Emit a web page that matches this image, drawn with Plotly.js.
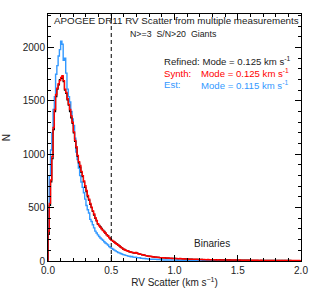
<!DOCTYPE html>
<html>
<head>
<meta charset="utf-8">
<script src="https://cdn.plot.ly/plotly-3.0.1.min.js"></script>
<style>
html,body{margin:0;padding:0;background:#fff;}
#chart{width:315px;height:293px;}
</style>
</head>
<body>
<div id="chart"></div>
<script>
// Histogram bins: 0.00 - 2.00 km/s, bin width 0.01
const binStart = 0.0;
const binWidth = 0.01;

// Refined (black)
const refinedCounts = [
  250, 520, 740, 960, 1230, 1400, 1540, 1610, 1650, 1700,
  1710, 1725, 1680, 1600, 1570, 1510, 1460, 1400, 1340, 1290,
  1200, 1120, 1060, 980, 920, 880, 830, 790, 740, 690,
  650, 600, 570, 530, 500, 465, 430, 400, 375, 345,
  335, 320, 305, 290, 278, 258, 248, 236, 220, 208,
  192, 183, 178, 168, 160, 148, 143, 130, 124, 112,
  108, 99, 97, 92, 86, 84, 82, 76, 74, 78,
  74, 70, 64, 63, 58, 57, 52, 51, 47, 46,
  43, 42, 41, 39, 36, 36, 34, 34, 31, 31,
  30, 29, 29, 26, 27, 27, 24, 25, 25, 24,
  24, 23, 23, 22, 22, 21, 20, 20, 19, 19,
  18, 18, 17, 18, 15, 16, 16, 15, 16, 14,
  14, 15, 13, 13, 14, 12, 13, 13, 12, 12,
  12, 11, 12, 11, 11, 12, 10, 10, 11, 10,
  9, 10, 9, 10, 9, 9, 8, 9, 8, 9,
  9, 8, 8, 8, 7, 8, 7, 8, 8, 7,
  6, 7, 7, 6, 7, 6, 7, 6, 6, 7,
  6, 6, 5, 6, 6, 5, 6, 5, 6, 5,
  5, 5, 6, 4, 5, 5, 4, 5, 4, 5,
  4, 5, 4, 4, 4, 3, 4, 4, 3, 4
];

// Synth (red)
const synthCounts = [
  280, 540, 760, 980, 1250, 1420, 1560, 1620, 1660, 1690,
  1720, 1735, 1690, 1610, 1580, 1520, 1470, 1420, 1360, 1300,
  1210, 1130, 1070, 990, 930, 895, 840, 800, 750, 705,
  660, 615, 580, 540, 505, 470, 440, 405, 380, 350,
  330, 315, 300, 285, 272, 262, 245, 232, 218, 205,
  195, 186, 176, 166, 157, 150, 141, 132, 122, 114,
  106, 101, 96, 91, 88, 85, 80, 78, 75, 80,
  72, 68, 66, 62, 60, 56, 54, 50, 48, 45,
  42, 44, 40, 38, 37, 35, 36, 33, 32, 30,
  29, 30, 28, 27, 28, 26, 25, 26, 24, 25,
  23, 24, 22, 21, 23, 20, 21, 19, 20, 18,
  19, 17, 18, 17, 16, 17, 15, 16, 15, 14,
  15, 14, 13, 14, 13, 12, 14, 12, 13, 12,
  11, 12, 11, 10, 12, 11, 10, 11, 10, 9,
  10, 9, 10, 9, 8, 10, 9, 8, 9, 8,
  8, 9, 8, 7, 8, 7, 8, 7, 7, 8,
  7, 6, 7, 7, 6, 7, 6, 6, 7, 6,
  6, 5, 6, 6, 5, 6, 5, 6, 5, 5,
  5, 6, 5, 5, 4, 5, 5, 4, 5, 4,
  5, 4, 4, 5, 4, 4, 3, 4, 4, 3
];

// Est (blue)
const estCounts = [
  470, 800, 1040, 1200, 1420, 1540, 1750, 1830, 1920, 1980,
  2060, 2030, 1880, 1900, 1760, 1610, 1540, 1490, 1400, 1330,
  1270, 1150, 1020, 950, 870, 800, 740, 690, 640, 580,
  520, 480, 450, 390, 370, 340, 310, 280, 262, 245,
  230, 215, 205, 195, 180, 168, 160, 150, 135, 125,
  118, 110, 102, 95, 88, 80, 76, 70, 66, 60,
  57, 53, 50, 46, 44, 40, 42, 36, 34, 35,
  31, 29, 30, 26, 25, 23, 24, 21, 20, 19,
  18, 17, 18, 16, 15, 16, 14, 13, 14, 12,
  11, 10, 11, 10, 9, 10, 9, 9, 8, 8,
  8, 7, 9, 7, 7, 8, 6, 6, 7, 6,
  6, 5, 6, 6, 5, 5, 6, 5, 5, 5,
  5, 4, 5, 5, 4, 5, 4, 4, 4, 5,
  4, 4, 4, 5, 3, 4, 4, 3, 4, 4,
  3, 4, 3, 3, 4, 3, 3, 3, 4, 3,
  3, 3, 3, 2, 3, 3, 3, 2, 3, 3,
  2, 3, 2, 2, 3, 2, 2, 3, 2, 2,
  2, 2, 2, 3, 2, 2, 1, 2, 2, 2,
  2, 1, 2, 2, 1, 2, 2, 1, 2, 1,
  1, 2, 1, 1, 2, 1, 1, 2, 1, 1
];

const binaryCut = 0.5;
const xTickVals = [0, 0.5, 1.0, 1.5, 2.0];
const xTickText = ['0.0', '0.5', '1.0', '1.5', '2.0'];
const yTickVals = [0, 500, 1000, 1500, 2000];
const yTickText = ['0', '500', '1000', '1500', '2000'];

function stepTrace(counts, color, width) {
  const x = [binStart];
  const y = [0];
  counts.forEach((c, i) => { x.push(binStart + i * binWidth); y.push(c); });
  x.push(binStart + counts.length * binWidth);
  y.push(counts[counts.length - 1]);
  return {x, y, type: 'scatter', mode: 'lines',
    line: {shape: 'hv', color, width}, hoverinfo: 'skip', showlegend: false};
}

const BLUE = '#3399ff';
const RED = '#ff0000';
const TXT = '#222';
const data = [
  stepTrace(estCounts, BLUE, 1.4),
  stepTrace(refinedCounts, '#000000', 1.2),
  stepTrace(synthCounts, RED, 1.4)
];

const FAM = 'Liberation Sans, Arial, sans-serif';
const font = {family: FAM, size: 10, color: TXT};
const axisCommon = {
  showline: true, linecolor: '#000', linewidth: 1, mirror: 'ticks',
  ticks: 'inside', ticklen: 6, tickcolor: '#000', tickwidth: 1,
  showgrid: false, zeroline: false, tickfont: font
};

const layout = {
  width: 315, height: 293,
  margin: {l: 48, r: 14, t: 14, b: 32},
  paper_bgcolor: '#fff', plot_bgcolor: '#fff',
  font: font,
  xaxis: Object.assign({}, axisCommon, {
    range: [0, 2.0], tickvals: xTickVals, ticktext: xTickText,
    minor: {dtick: 0.1, ticks: 'inside', ticklen: 3, tickcolor: '#000'},
    title: {text: 'RV Scatter (km s<sup>\u22121</sup>)', font: font, standoff: 3}
  }),
  yaxis: Object.assign({}, axisCommon, {
    range: [0, 2314], tickvals: yTickVals, ticktext: yTickText,
    minor: {dtick: 100, ticks: 'inside', ticklen: 3, tickcolor: '#000'},
    title: {text: 'N', font: font, standoff: 10}
  }),
  shapes: [{type: 'line', xref: 'x', yref: 'paper', x0: binaryCut, x1: binaryCut, y0: 0, y1: 1,
    line: {color: '#000', width: 1, dash: '4px,3px'}}],
  annotations: [
    {xref: 'paper', yref: 'paper', x: 0.506, y: 0.972, text: 'APOGEE DR11 RV Scatter from multiple measurements',
      showarrow: false, xanchor: 'center', yanchor: 'middle', font: {family: FAM, size: 9.8, color: TXT}},
    {xref: 'paper', yref: 'paper', x: 0.498, y: 0.919, text: 'N>=3  S/N>20  Giants',
      showarrow: false, xanchor: 'center', yanchor: 'middle', font: {family: FAM, size: 8.8, color: TXT}},
    {xref: 'paper', yref: 'paper', x: 0.451, y: 0.808, text: 'Refined: Mode = 0.125 km s<sup>-1</sup>',
      showarrow: false, xanchor: 'left', yanchor: 'middle', font: {family: FAM, size: 9.6, color: TXT}},
    {xref: 'paper', yref: 'paper', x: 0.451, y: 0.761, text: 'Synth:',
      showarrow: false, xanchor: 'left', yanchor: 'middle', font: {family: FAM, size: 9.6, color: RED}},
    {xref: 'paper', yref: 'paper', x: 0.597, y: 0.761, text: 'Mode = 0.125 km s<sup>-1</sup>',
      showarrow: false, xanchor: 'left', yanchor: 'middle', font: {family: FAM, size: 9.6, color: RED}},
    {xref: 'paper', yref: 'paper', x: 0.451, y: 0.713, text: 'Est:',
      showarrow: false, xanchor: 'left', yanchor: 'middle', font: {family: FAM, size: 9.6, color: BLUE}},
    {xref: 'paper', yref: 'paper', x: 0.597, y: 0.713, text: 'Mode = 0.115 km s<sup>-1</sup>',
      showarrow: false, xanchor: 'left', yanchor: 'middle', font: {family: FAM, size: 9.6, color: BLUE}},
    {xref: 'paper', yref: 'paper', x: 0.648, y: 0.069, text: 'Binaries',
      showarrow: false, xanchor: 'center', yanchor: 'middle', font: {family: FAM, size: 10, color: TXT}}
  ]
};

Plotly.newPlot('chart', data, layout, {staticPlot: true, displayModeBar: false});
</script>
</body>
</html>
